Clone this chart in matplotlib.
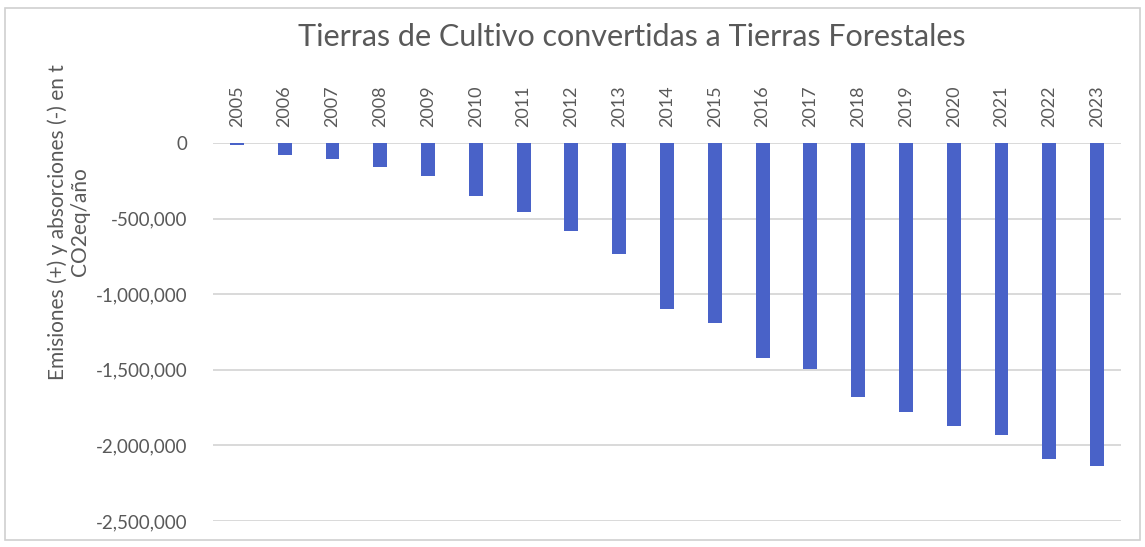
import matplotlib
matplotlib.use("Agg")
import matplotlib.pyplot as plt
from matplotlib.patches import Rectangle
from matplotlib.ticker import FuncFormatter

years = ["2005", "2006", "2007", "2008", "2009", "2010", "2011", "2012", "2013", "2014",
         "2015", "2016", "2017", "2018", "2019", "2020", "2021", "2022", "2023"]
values = [-16000, -77000, -104000, -161000, -217000, -349000, -459000, -579000, -735000,
          -1097000, -1192000, -1424000, -1493000, -1678000, -1780000, -1874000, -1932000,
          -2093000, -2137000]
yticks = [0, -500000, -1000000, -1500000, -2000000, -2500000]

plt.rcParams['font.family'] = ['Lato', 'DejaVu Sans']

fig = plt.figure(figsize=(11.45, 5.47), dpi=100)
fig.patches.append(Rectangle((5/1145, 1-540/547), 1135/1145, 532/547, transform=fig.transFigure,
                             fill=False, edgecolor='#D0D0D0', linewidth=1.2))

ax = fig.add_axes([213/1145, 1-521/547, 908/1145, 378/547])
x = list(range(len(years)))
ax.bar(x, values, width=0.29, color='#4962C8', zorder=3)
ax.set_xlim(-0.5, len(years)-0.5)
ax.set_ylim(-2500000, 0)
ax.set_yticks(yticks)
ax.yaxis.set_major_formatter(FuncFormatter(lambda v, p: f"{int(v):,}"))
ax.grid(axis='y', color='#D9D9D9', linewidth=1.4, zorder=0)
ax.set_axisbelow(True)
for s in ax.spines.values():
    s.set_visible(False)
ax.set_xticks(x)
ax.set_xticklabels(years, rotation=90)
ax.tick_params(axis='x', top=False, bottom=False, labeltop=True, labelbottom=False,
               pad=8, labelsize=13, labelcolor='#595959')
ax.tick_params(axis='y', left=False, pad=15, labelsize=13.5, labelcolor='#595959')

fig.text(69/1145, 1-222/547, "Emisiones (+) y absorciones (-) en t\nCO2eq/año",
         rotation=90, ha='center', va='center', multialignment='center',
         fontsize=15, color='#595959', linespacing=1.15)

fig.text(632/1145, 1-37/547, "Tierras de Cultivo convertidas a Tierras Forestales",
         ha='center', va='center', fontsize=22, color='#595959')

fig.savefig("out.png", dpi=100)
